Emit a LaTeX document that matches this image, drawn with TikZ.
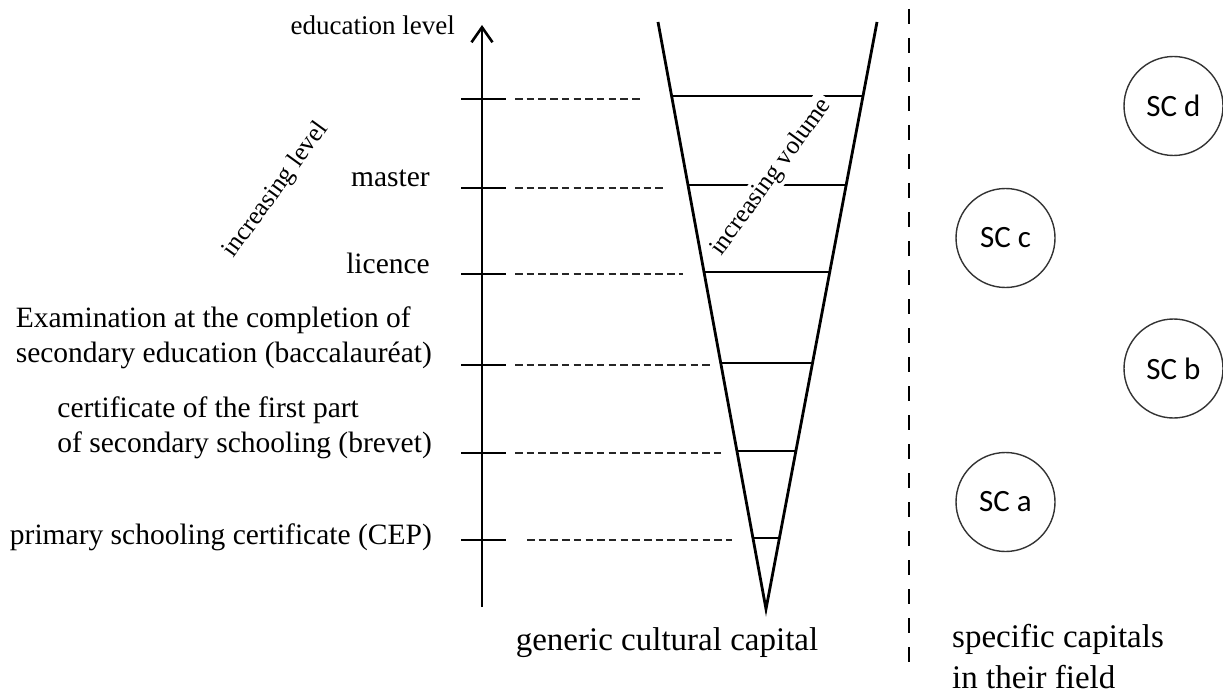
\documentclass[tikz,border=0pt]{standalone}
\usepackage{fontspec}
\setmainfont{Liberation Serif}
\newfontfamily\scfont{Carlito}
\usetikzlibrary{calc,arrows.meta}
\begin{document}
\begin{tikzpicture}[x=1pt,y=-1pt,
  mainline/.style={line width=2.6pt, line cap=butt},
  dashline/.style={line width=2.3pt, dash pattern=on 7.5pt off 4.2pt, draw=black!85},
  sepline/.style={line width=2.5pt, dash pattern=on 15pt off 14pt},
  lbl/.style={font=\fontsize{29.5}{35}\selectfont, inner sep=0pt, align=left},
  rotlbl/.style={font=\fontsize{25.5}{30}\selectfont, inner sep=2pt, rotate=54},
  botlbl/.style={font=\fontsize{33}{41}\selectfont, inner sep=0pt, align=left},
  capnode/.style={circle, draw=black!80, line width=1.4pt, minimum size=99pt, inner sep=0pt, font=\scfont\fontsize{31}{36}\selectfont},
]
\useasboundingbox (0,0) rectangle (1223,695);

% axis
\coordinate (ax0) at (482,607);
\coordinate (ax1) at (482,25);
\draw[mainline, -{Straight Barb[length=15pt,width=21pt]}] (ax0) -- (ax1);
\node[font=\fontsize{27}{32}\selectfont, inner sep=0pt, anchor=base east] (edu) at (455,35) {education level};

% ticks and dashed guides
\foreach \n/\y/\xs/\xe in {t0/99/515/640, t1/188/515/667, t2/274/515/683, t3/365/515/713, t4/453/515/721, t5/540/527/732}{
  \coordinate (\n a) at (461,\y);
  \coordinate (\n b) at (506,\y);
  \coordinate (\n c) at (\xs,\y);
  \coordinate (\n d) at (\xe,\y);
  \draw[mainline] (\n a) -- (\n b);
  \draw[dashline] (\n c) -- (\n d);
}

% level labels
\node[lbl, anchor=base east] (master) at (430,187) {master};
\node[lbl, anchor=base east] (licence) at (430,273) {licence};
\node[lbl, anchor=base east] (bac) at (432,362) {Examination at the completion of\\secondary education (baccalauréat)};
\node[lbl, anchor=base east] (brevet) at (432,452) {certificate of the first part\\of secondary schooling (brevet)};
\node[lbl, anchor=base east] (cep) at (432,544) {primary schooling certificate (CEP)};

\node[rotlbl] (inclevel) at (276,190) {increasing level};

% cone
\coordinate (TL) at (658,22);
\coordinate (TR) at (877,22);
\coordinate (tip) at (766,609);
\foreach \n/\y in {c0/96, c1/185, c2/272, c3/363, c4/451, c5/538}{
  \coordinate (\n l) at ($(TL)!{(\y-22)/587}!(tip)$);
  \coordinate (\n r) at ($(TR)!{(\y-22)/587}!(tip)$);
  \draw[mainline] (\n l) -- (\n r);
}
\node[rotlbl, fill=white, inner sep=3pt] (incvol) at (771.5,177.5) {increasing volume};
\draw[mainline, line width=2.8pt] (TL) -- (tip) -- (TR);

\node[botlbl, anchor=base] (gcc) at (667,650) {generic cultural capital};

% separator
\coordinate (s0) at (909,9);
\coordinate (s1) at (909,670);
\draw[sepline] (s0) -- (s1);

\node[botlbl, anchor=base west] (scf) at (952,688) {specific capitals\\in their field};

% specific capitals
\node[capnode] (scd) at (1173.5,106) {SC d};
\node[capnode] (scc) at (1005.5,238) {SC c};
\node[capnode] (scb) at (1173.5,368.5) {SC b};
\node[capnode] (sca) at (1005.5,502) {SC a};
\end{tikzpicture}
\end{document}
